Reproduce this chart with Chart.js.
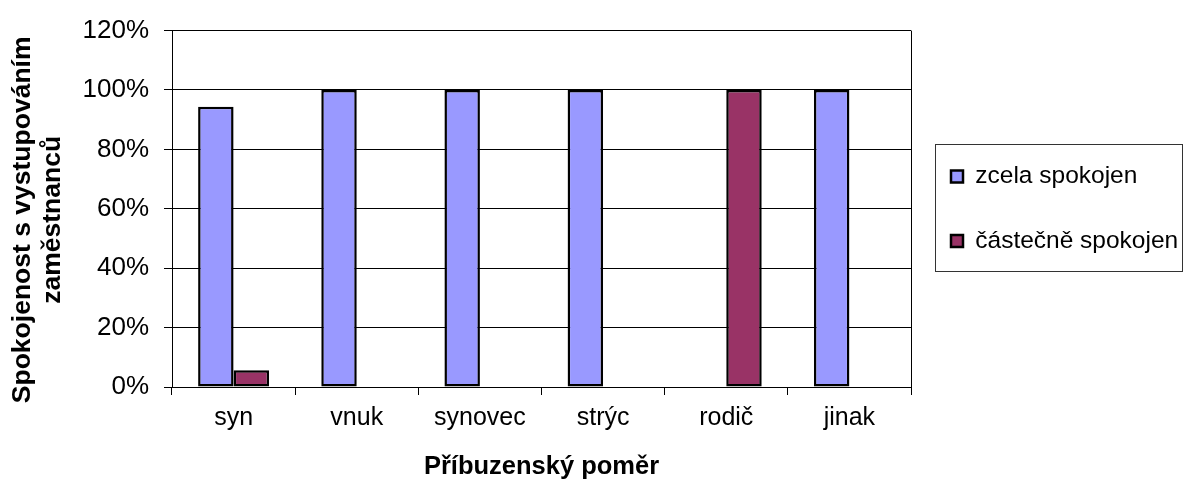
<!DOCTYPE html>
<html>
<head>
<meta charset="utf-8">
<script src="https://cdn.jsdelivr.net/npm/chart.js@4.4.1/dist/chart.umd.min.js"></script>
<style>
html,body{margin:0;padding:0;background:#fff;}
#c{display:block;}
</style>
</head>
<body>
<canvas id="c" width="1183" height="482"></canvas>
<script>
// ---- data ----
const categories = ['syn', 'vnuk', 'synovec', 'strýc', 'rodič', 'jinak'];
const seriesNames = ['zcela spokojen', 'částečně spokojen'];
const zcelaSpokojen = [94.4, 100, 100, 100, null, 100];
const castecneSpokojen = [5.6, null, null, null, 100, null];
const yTickValues = [0, 20, 40, 60, 80, 100, 120];
const yTitle = ['Spokojenost s vystupováním\u00A0\u00A0\u00A0', 'zaměstnanců\u00A0\u00A0\u00A0'];
const xTitle = 'Příbuzenský poměr';

// ---- styling / layout ----
const FONT = "'Liberation Sans', Arial, sans-serif";
const Y_TICK_SIZE = 26;
const X_TICK_SIZE = 25;
const LEG_SIZE = 24.5;
const Y_TITLE_SIZE = 26.5;
const X_TITLE_SIZE = 25.5;
const PLOT_LEFT = 172, PLOT_RIGHT = 911, PLOT_TOP = 26, PLOT_BOTTOM = 387;
const W = 1183, H = 482;
const LEG_PAD = 40, LEG_BOX = 12;

const mctx = document.createElement('canvas').getContext('2d');
mctx.font = LEG_SIZE + 'px ' + FONT;
const maxTextW = Math.max(...seriesNames.map(t => mctx.measureText(t).width));
const legendW = LEG_PAD + LEG_BOX + LEG_SIZE / 2 + maxTextW + 10;
const padRight = W - PLOT_RIGHT - legendW;

const frame = {
  id: 'frame',
  afterDatasetsDraw(chart) {
    const {ctx, chartArea} = chart;
    ctx.save();
    ctx.strokeStyle = '#000';
    ctx.lineWidth = 1;
    ctx.beginPath();
    const x = Math.round(chartArea.right) + 0.5;
    ctx.moveTo(x, chartArea.top);
    ctx.lineTo(x, chartArea.bottom);
    ctx.stroke();
    ctx.restore();
  },
  afterDraw(chart) {
    const lg = chart.legend;
    if (!lg || !lg.legendHitBoxes || !lg.legendHitBoxes.length) return;
    const hb = lg.legendHitBoxes;
    const top = Math.round(hb[0].top - 20) + 0.5;
    const last = hb[hb.length - 1];
    const bottom = Math.round(last.top + last.height + 18) + 0.5;
    const left = Math.round(chart.chartArea.right + 24) + 0.5;
    const right = chart.width - 0.5;
    const ctx = chart.ctx;
    ctx.save();
    ctx.strokeStyle = '#333';
    ctx.lineWidth = 1;
    ctx.strokeRect(left, top, right - left, bottom - top);
    ctx.restore();
  }
};

const chart = new Chart(document.getElementById('c'), {
  type: 'bar',
  data: {
    labels: categories,
    datasets: [
      {
        label: seriesNames[0],
        data: zcelaSpokojen,
        backgroundColor: '#9999FF',
        borderColor: '#000',
        borderWidth: 2.5,
        borderSkipped: false
      },
      {
        label: seriesNames[1],
        data: castecneSpokojen,
        backgroundColor: '#993366',
        borderColor: '#000',
        borderWidth: 2.5,
        borderSkipped: false
      }
    ]
  },
  options: {
    responsive: false,
    animation: false,
    devicePixelRatio: 1,
    categoryPercentage: 0.576,
    barPercentage: 1.0,
    layout: {padding: {left: 4, top: PLOT_TOP, right: padRight, bottom: 0}},
    plugins: {
      tooltip: {enabled: false},
      legend: {
        position: 'right',
        align: 'center',
        fullSize: false,
        labels: {
          boxWidth: LEG_BOX,
          boxHeight: LEG_BOX,
          padding: LEG_PAD,
          color: '#000',
          font: {family: FONT, size: LEG_SIZE}
        }
      }
    },
    scales: {
      x: {
        grid: {display: true, drawOnChartArea: false, drawTicks: true, tickLength: 8, color: '#000', lineWidth: 1, offset: true},
        border: {display: true, color: '#000', width: 1},
        ticks: {font: {family: FONT, size: X_TICK_SIZE}, color: '#000', padding: 8, maxRotation: 0, autoSkip: false},
        title: {display: true, text: xTitle, color: '#000', font: {family: FONT, size: X_TITLE_SIZE, weight: 'bold', lineHeight: 1.2}, padding: {top: 0, bottom: 0}},
        afterFit: s => { s.height = H - PLOT_BOTTOM; }
      },
      y: {
        min: 0,
        max: 120,
        afterBuildTicks: s => { s.ticks = yTickValues.map(v => ({value: v})); },
        ticks: {font: {family: FONT, size: Y_TICK_SIZE}, color: '#000', padding: 15, callback: v => v + '%'},
        grid: {color: '#000', lineWidth: 1, tickLength: 8},
        border: {display: true, color: '#000', width: 1},
        title: {display: true, text: yTitle, color: '#000', font: {family: FONT, size: Y_TITLE_SIZE, weight: 'bold', lineHeight: 1.13}, padding: {top: 4, bottom: 0}},
        afterFit: s => { s.width = PLOT_LEFT - 4; }
      }
    }
  },
  plugins: [frame]
});

// correct layout so the plot area's right edge lands where the reference has it
const diff = chart.chartArea.right - PLOT_RIGHT;
if (Math.abs(diff) > 0.5) {
  chart.options.layout.padding.right = chart.options.layout.padding.right + diff;
  chart.update();
}
</script>
</body>
</html>
